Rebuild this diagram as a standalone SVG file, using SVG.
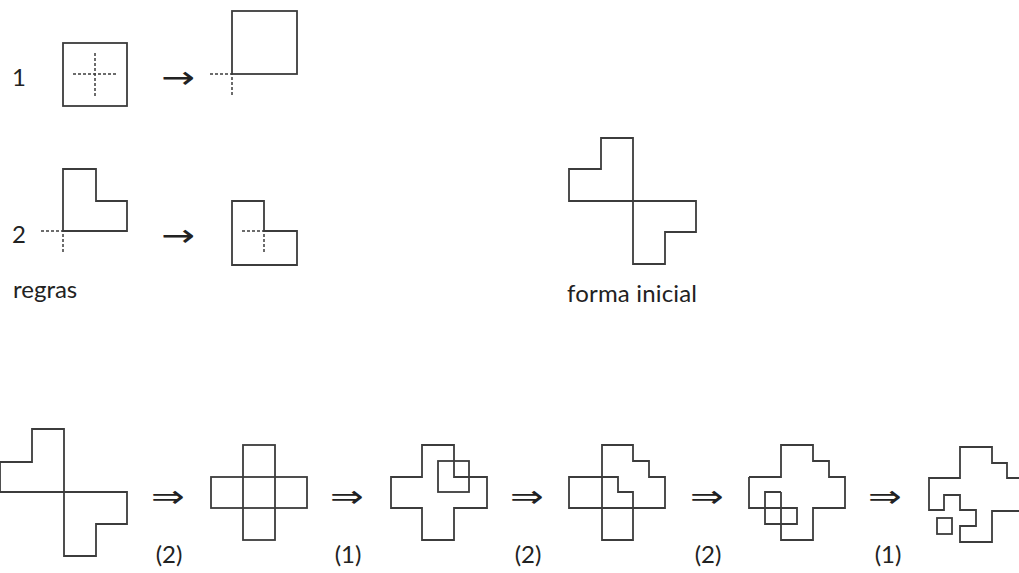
<svg xmlns="http://www.w3.org/2000/svg" width="1019" height="573" viewBox="0 0 1019 573">
<style>
.s{fill:none;stroke:#3c3c3c;stroke-width:1.8;stroke-linejoin:miter}
.d{fill:none;stroke:#3c3c3c;stroke-width:1.5;stroke-dasharray:3 2}
.t{font-family:Lato,"Open Sans","Liberation Sans",sans-serif;font-size:24px;fill:#222}
.a{font-family:"DejaVu Sans",sans-serif;font-size:31px;fill:#222;text-anchor:middle}
</style>
<rect width="1019" height="573" fill="#fff"/>
<g id="rule1">
<text class="t" x="12" y="86">1</text>
<rect class="s" x="63" y="43" width="64" height="63"/>
<path class="d" d="M73,74H117M95,53V97"/>
<rect class="s" x="232" y="11" width="65" height="63"/>
<path class="d" d="M210,74H232V97"/>
</g>
<g id="rule2">
<text class="t" x="12" y="243">2</text>
<path class="s" d="M63,169H96V201H127V231H63Z"/>
<path class="d" d="M41,231H63V254"/>
<path class="s" d="M232,201H264V231H297V265H232Z"/>
<path class="d" d="M242,231H264V254"/>
<text class="t" x="13" y="298">regras</text>
</g>
<g id="initial">
<path class="s" d="M601,138H633V201H569V169H601Z"/>
<path class="s" d="M633,201H696V232H665V264H633Z"/>
<text class="t" x="567" y="302" textLength="130">forma inicial</text>
</g>
<g id="f1">
<path class="s" d="M32,429H64V492H0V462H32Z"/>
<path class="s" d="M64,492H127V524H96V556H64Z"/>
</g>
<g id="f2">
<rect class="s" x="243" y="445" width="32" height="95"/>
<rect class="s" x="211" y="477" width="96" height="31"/>
</g>
<g id="f3">
<path class="s" d="M422,445H454V477H487V508H454V540H422V508H391V477H422Z"/>
<rect class="s" x="438" y="461" width="31" height="31"/>
</g>
<g id="f4">
<path class="s" d="M602,445H633V461H649V477H665V508H569V477H618V492H633V540H602Z"/>
</g>
<g id="f5">
<path class="s" d="M749,477H781V445H813V461H829V477H845V508H813V540H781V492"/>
<path class="s" d="M749,477V508H797V524H765V492H781"/>
</g>
<g id="f6">
<path class="s" d="M1025,478H1007V463H992V447H960V478H929V510H944V495H960V510H976V526H960V542H992V511H1025"/>
<rect class="s" x="937" y="518" width="15" height="16"/>
</g>
<g id="connectors">
<text class="a" transform="translate(178,88) scale(1.3,1)">→</text>
<text class="a" transform="translate(178,246) scale(1.3,1)">→</text>
<text class="a" transform="translate(168,507) scale(1.3,1)">⇒</text>
<text class="a" transform="translate(347,507) scale(1.3,1)">⇒</text>
<text class="a" transform="translate(527,507) scale(1.3,1)">⇒</text>
<text class="a" transform="translate(707,507) scale(1.3,1)">⇒</text>
<text class="a" transform="translate(885,507) scale(1.3,1)">⇒</text>
</g>
<g id="labels">
<text class="t" x="169" y="563" text-anchor="middle">(2)</text>
<text class="t" x="348" y="563" text-anchor="middle">(1)</text>
<text class="t" x="528" y="563" text-anchor="middle">(2)</text>
<text class="t" x="708" y="563" text-anchor="middle">(2)</text>
<text class="t" x="888" y="563" text-anchor="middle">(1)</text>
</g>
</svg>
